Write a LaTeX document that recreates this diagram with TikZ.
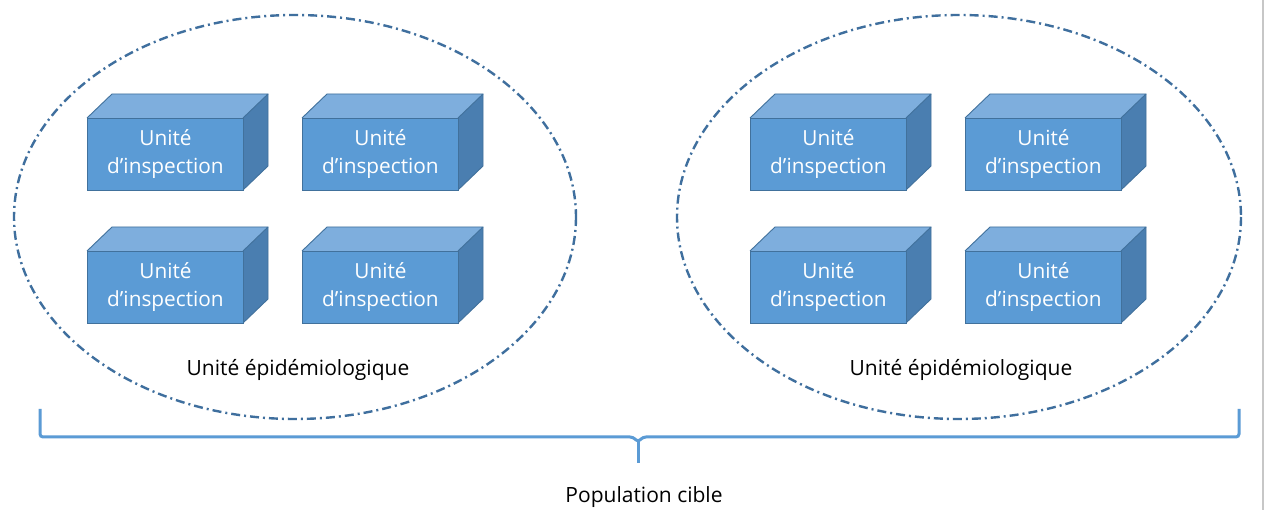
\documentclass[tikz,border=0pt]{standalone}
\usepackage{fontspec}
\setmainfont{Open Sans}
\usetikzlibrary{calc}
\definecolor{frontblue}{HTML}{5B9BD5}
\definecolor{topblue}{HTML}{7EAEDD}
\definecolor{sideblue}{HTML}{4A7EB0}
\definecolor{edgeblue}{HTML}{41719C}
\definecolor{ringblue}{HTML}{3F6F9E}
\definecolor{bracecol}{HTML}{5B9BD5}
\tikzset{
  face/.style={draw=edgeblue, line width=0.9pt, line join=round},
  unitlabel/.style={text=white, font=\fontsize{20.8}{28}\selectfont, align=center,
    minimum width=156pt, minimum height=72pt, inner sep=0pt, anchor=north west},
  ring/.style={draw=ringblue, line width=2.4pt, dash pattern=on 9pt off 4pt on 2pt off 4pt},
  eplabel/.style={font=\fontsize{21}{24}\selectfont, text=black},
  bracket/.style={draw=bracecol, line width=3pt, rounded corners=3pt},
}
% a box: front face at (#2,#3), 156 x 72, depth offset (25,-24)
\newcommand{\inspbox}[3]{%
  \fill[topblue] (#2,#3) -- ++(25,-24) -- ++(156,0) -- ++(-25,24) -- cycle;
  \fill[sideblue] (#2+156,#3) -- ++(25,-24) -- ++(0,72) -- ++(-25,24) -- cycle;
  \draw[face] (#2,#3) -- ++(25,-24) -- ++(156,0) -- ++(-25,24);
  \draw[face] (#2+156,#3) ++(25,-24) -- ++(0,72) -- ++(-25,24);
  \node[unitlabel, fill=frontblue, draw=edgeblue, line width=0.9pt] (#1) at (#2,#3) {Unité\\d’inspection};
}
\begin{document}
\begin{tikzpicture}[x=1pt,y=-1pt]
\useasboundingbox (0,0) rectangle (1267,510);
\fill[white] (0,0) rectangle (1267,510);

% epidemiological units (dash-dot ellipses)
\draw[ring] (295,217) ellipse [x radius=281, y radius=202];
\draw[ring] (959,217) ellipse [x radius=282, y radius=202];

% inspection units, left group
\inspbox{a1}{87}{118}
\inspbox{a2}{302}{118}
\inspbox{a3}{87}{251}
\inspbox{a4}{302}{251}
% inspection units, right group
\inspbox{b1}{750}{118}
\inspbox{b2}{965}{118}
\inspbox{b3}{750}{251}
\inspbox{b4}{965}{251}

\node[eplabel] (ea) at (298,370) {Unité épidémiologique};
\node[eplabel] (eb) at (961,370) {Unité épidémiologique};

% bracket spanning the target population
\coordinate (bl) at (40,409);
\coordinate (br) at (1239,409);
\coordinate (bm) at (638,463);
\draw[bracket] (bl) -- (40,437) -- (633,437) -- (638,442) -- (643,437) -- (1239,437) -- (br);
\draw[bracecol, line width=3pt] (638,440) -- (bm);

\node[eplabel] (pc) at (644,497) {Population cible};

% frame edge on the right
\draw[black!22, line width=1.5pt] (1263,0) -- (1263,510);
\end{tikzpicture}
\end{document}
